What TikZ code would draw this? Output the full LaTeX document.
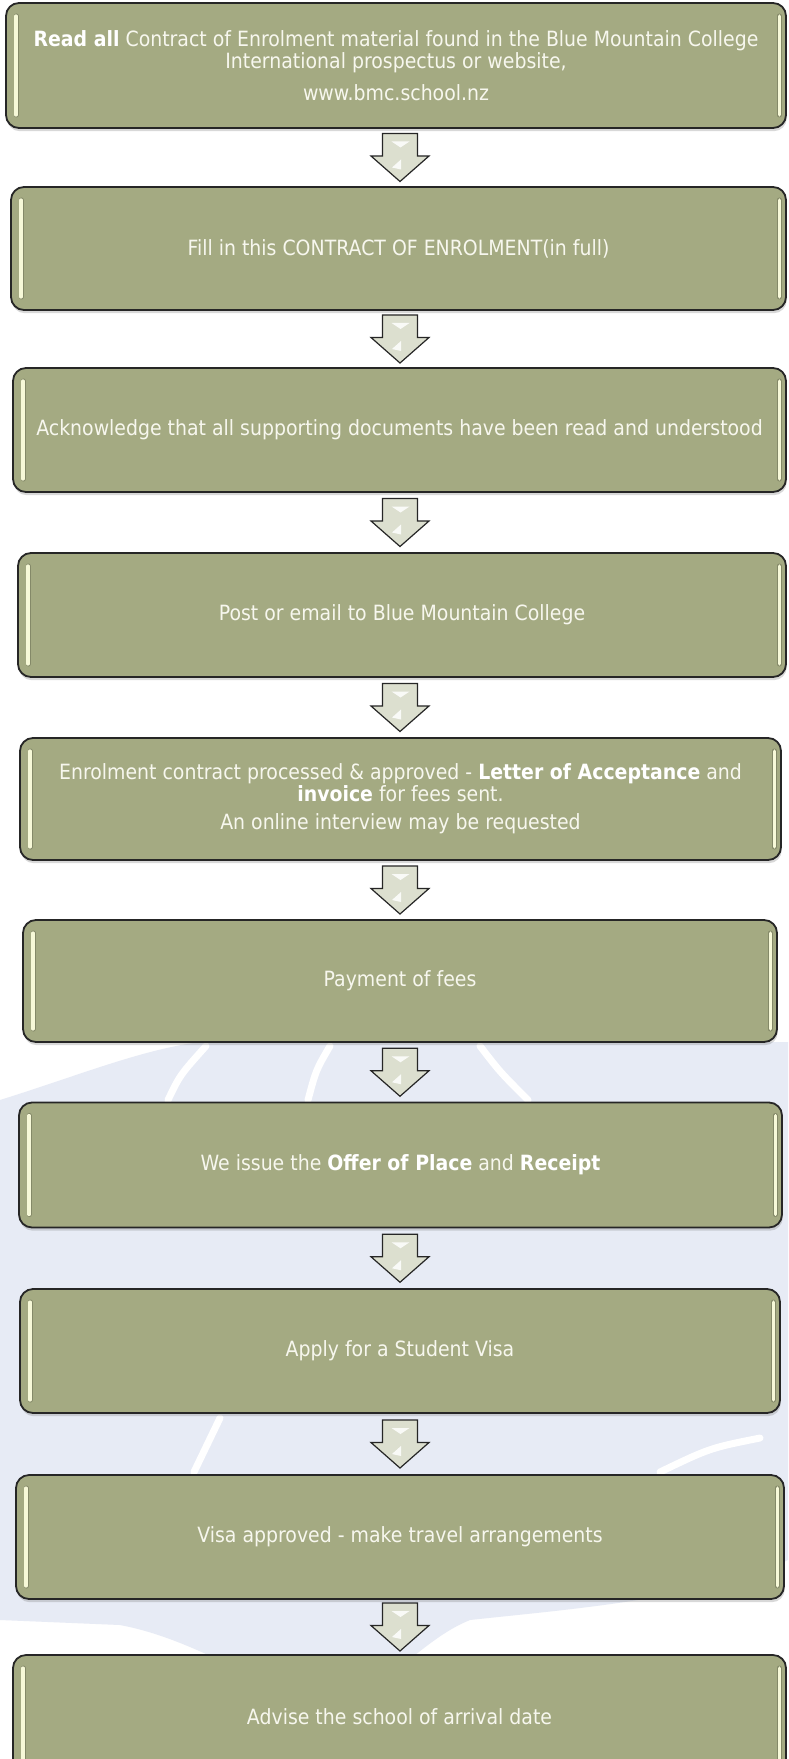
\documentclass[tikz,border=0pt]{standalone}
\usepackage{fontspec}
\setmainfont{DejaVu Sans}[FakeStretch=0.9]
\usepackage{tikz}
\usetikzlibrary{calc}
\usetikzlibrary{shadows}
\definecolor{boxolive}{RGB}{164,170,130}
\definecolor{bartint}{RGB}{247,249,216}
\definecolor{arrowgrey}{RGB}{220,223,207}
\definecolor{wmark}{RGB}{231,235,245}
\definecolor{textcream}{RGB}{247,247,238}
\tikzset{
    stepbox/.style={draw=black!85, line width=0.9pt, fill=boxolive,
      rounded corners=6.5pt, text=textcream, align=center, inner sep=0pt,
      font=\fontsize{10.5}{10}\selectfont,
      drop shadow={shadow xshift=0.4pt, shadow yshift=-1.6pt, opacity=0.3}},
    wh/.style 2 args={minimum width=#1*0.5pt, minimum height=#2*0.5pt},
    barshade/.style={draw=boxolive!65!black, line width=2.6pt, line cap=round, opacity=0.55},
    barlight/.style={draw=bartint, line width=1.7pt, line cap=round},
    arrowline/.style={draw=black!85, line width=0.6pt, fill=arrowgrey, line join=miter},
    streak/.style={draw=white, line width=3.5pt, line cap=round},
    flowarrow/.pic={
      \draw[arrowline] (-17.5,-24) -- (17.5,-24) -- (17.5,-1.5) -- (29,-1.5) -- (0,24)
        -- (-29,-1.5) -- (-17.5,-1.5) -- cycle;
      \fill[white, opacity=0.85] (-8.5,-16) -- (9.5,-16) -- (0.5,-10) -- cycle;
      \fill[white, opacity=0.85] (1,2) -- (1,12) -- (-8,10) -- cycle;
    }
}

\begin{document}
\begin{tikzpicture}[x=0.5pt,y=-0.5pt]
\useasboundingbox (0,0) rectangle (788,1759);
\fill[white] (0,0) rectangle (788,1759);
\fill[wmark] (0,1100) .. controls (80,1075) and (140,1050) .. (200,1042) -- (788,1042)
  -- (788,1560) .. controls (700,1600) and (560,1610) .. (470,1620)
  .. controls (420,1640) and (390,1690) .. (330,1700)
  .. controls (260,1690) and (200,1640) .. (120,1625) -- (0,1620) -- cycle;
\draw[streak] (168,1100) .. controls (180,1075) .. (206,1046);
\draw[streak] (308,1100) .. controls (316,1070) .. (330,1046);
\draw[streak] (480,1046) .. controls (500,1072) .. (528,1100);
\draw[streak] (194,1472) -- (220,1418);
\draw[streak] (660,1472) .. controls (710,1448) .. (760,1438);

\node[stepbox, wh={780}{125}] (read) at (396,65.5)
  {\textbf{\color{white}Read all} Contract of Enrolment material found in the Blue Mountain College\\
   International prospectus or website,\\[4.5pt] www.bmc.school.nz};
\node[stepbox, wh={775}{123}] (fillin) at (398.5,248.5)
  {Fill in this CONTRACT OF ENROLMENT(in full)};
\node[stepbox, wh={773}{124}] (ack) at (399.5,430)
  {Acknowledge that all supporting documents have been read and understood};
\node[stepbox, wh={768}{124}] (post) at (402,615)
  {Post or email to Blue Mountain College};
\node[stepbox, wh={761}{122}] (approve) at (400.5,799)
  {Enrolment contract processed \& approved - \textbf{\color{white}Letter of Acceptance} and\\
   \textbf{\color{white}invoice} for fees sent.\\[4pt] An online interview may be requested};
\node[stepbox, wh={754}{122}] (pay) at (400,981)
  {Payment of fees};
\node[stepbox, wh={763}{125}] (offer) at (400.5,1165)
  {We issue the \textbf{\color{white}Offer of Place} and \textbf{\color{white}Receipt}};
\node[stepbox, wh={760}{124}] (visa) at (400,1351)
  {Apply for a Student Visa};
\node[stepbox, wh={768}{124}] (travel) at (400,1537)
  {Visa approved - make travel arrangements};
\node[stepbox, wh={773}{124}] (arrive) at (399.5,1717)
  {Advise the school of arrival date};

\foreach \b in {read,fillin,ack,post,approve,pay,offer,visa,travel,arrive}{
\draw[barshade] ([shift={(5.5pt,-7pt)}]\b.north west) -- ([shift={(5.5pt,7pt)}]\b.south west);
\draw[barlight] ([shift={(5.5pt,-7pt)}]\b.north west) -- ([shift={(5.5pt,7pt)}]\b.south west);
\draw[barshade] ([shift={(-3.8pt,-7pt)}]\b.north east) -- ([shift={(-3.8pt,7pt)}]\b.south east);
\draw[barlight] ([shift={(-3.8pt,-7pt)}]\b.north east) -- ([shift={(-3.8pt,7pt)}]\b.south east);}

\coordinate (mid) at (400,0);
\foreach \a/\b [count=\i] in {read/fillin,fillin/ack,ack/post,post/approve,approve/pay,
  pay/offer,offer/visa,visa/travel,travel/arrive}{
\path (\a.south) -- (\b.north) coordinate[midway] (g\i);
\pic at (mid |- g\i) {flowarrow};}
\end{tikzpicture}
\end{document}
